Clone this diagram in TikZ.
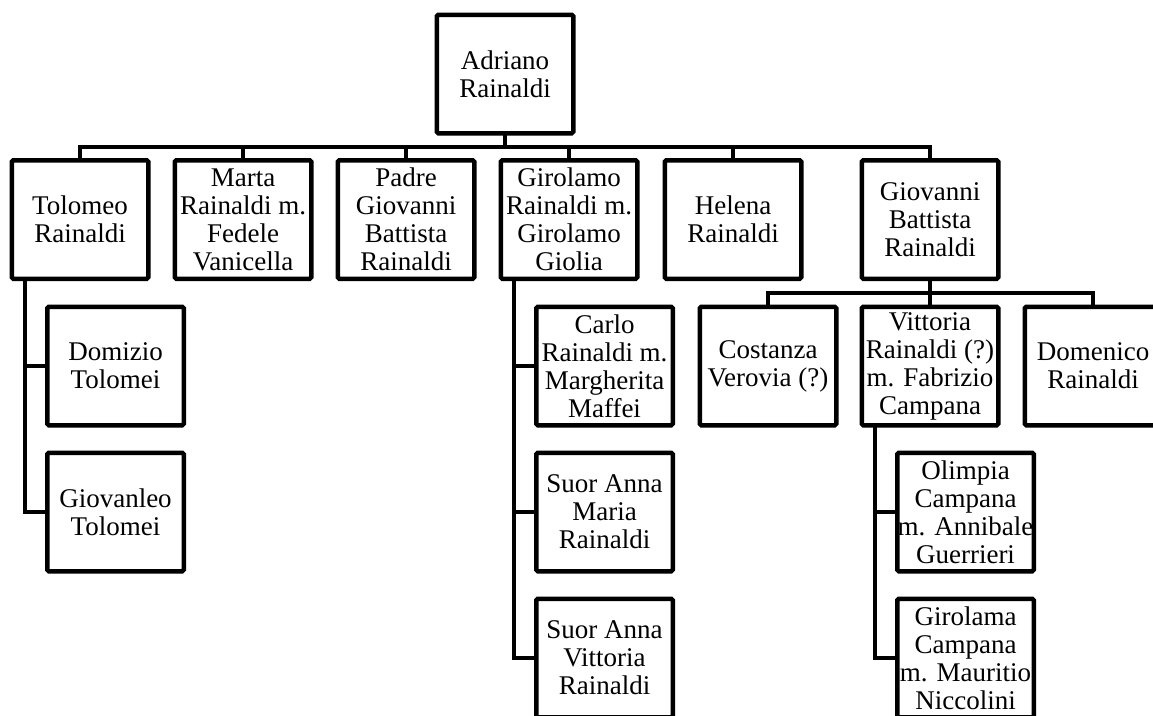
\documentclass[tikz,border=0pt]{standalone}
\usepackage{fontspec}
\setmainfont{Liberation Serif}
\begin{document}
\begin{tikzpicture}[x=1pt,y=-1pt,
  box/.style={draw, line width=4.5pt, rounded corners=1.5pt, minimum width=136.5pt, minimum height=118.5pt, inner sep=0pt, outer sep=0pt, align=center, font=\fontsize{27}{28}\selectfont},
  conn/.style={line width=4.5pt}]
\useasboundingbox (0,0) rectangle (1153,715);
\fill[white] (0,0) rectangle (1153,715);
\clip (0,0) rectangle (1153,715);
% root
\node[box] (adriano) at (505,74) {Adriano\\Rainaldi};
% row 1
\node[box] (tolomeo) at (80,219.5) {Tolomeo\\Rainaldi};
\node[box] (marta) at (243,219.5) {Marta\\Rainaldi m.\\Fedele\\Vanicella};
\node[box] (padre) at (406,219.5) {Padre\\Giovanni\\Battista\\Rainaldi};
\node[box] (girolamo) at (569,219.5) {Girolamo\\Rainaldi m.\\Girolamo\\Giolia};
\node[box] (helena) at (733,219.5) {Helena\\Rainaldi};
\node[box] (gbr) at (930,219.5) {Giovanni\\Battista\\Rainaldi};
% Tolomeo's children
\node[box] (domizio) at (115.5,366) {Domizio\\Tolomei};
\node[box] (giovanleo) at (115.5,512) {Giovanleo\\Tolomei};
% Girolamo's children
\node[box] (carlo) at (604.5,366) {Carlo\\Rainaldi m.\\Margherita\\Maffei};
\node[box] (sam) at (604.5,512) {Suor Anna\\Maria\\Rainaldi};
\node[box] (sav) at (604.5,658) {Suor Anna\\Vittoria\\Rainaldi};
% Giovanni Battista's children
\node[box] (costanza) at (768,366) {Costanza\\Verovia (?)};
\node[box] (vittoria) at (930,366) {Vittoria\\Rainaldi (?)\\m. Fabrizio\\Campana};
\node[box] (domenico) at (1093,366) {Domenico\\Rainaldi};
% Vittoria's children
\node[box] (olimpia) at (965.5,512) {Olimpia\\Campana\\m. Annibale\\Guerrieri};
\node[box] (girolama) at (965.5,658) {Girolama\\Campana\\m. Mauritio\\Niccolini};
% connectors
\coordinate (b1) at (0,147);
\coordinate (b2) at (0,293);
\foreach \c in {tolomeo,marta,padre,girolamo,helena,gbr}
  \draw[conn] (adriano.south) -- (adriano.south |- b1) -| (\c.north);
\foreach \c in {costanza,vittoria,domenico}
  \draw[conn] (gbr.south) -- (gbr.south |- b2) -| (\c.north);
\foreach \c in {domizio,giovanleo}
  \draw[conn] ([xshift=13pt]tolomeo.south west) |- (\c.west);
\foreach \c in {carlo,sam,sav}
  \draw[conn] ([xshift=13pt]girolamo.south west) |- (\c.west);
\foreach \c in {olimpia,girolama}
  \draw[conn] ([xshift=13pt]vittoria.south west) |- (\c.west);
\end{tikzpicture}
\end{document}
